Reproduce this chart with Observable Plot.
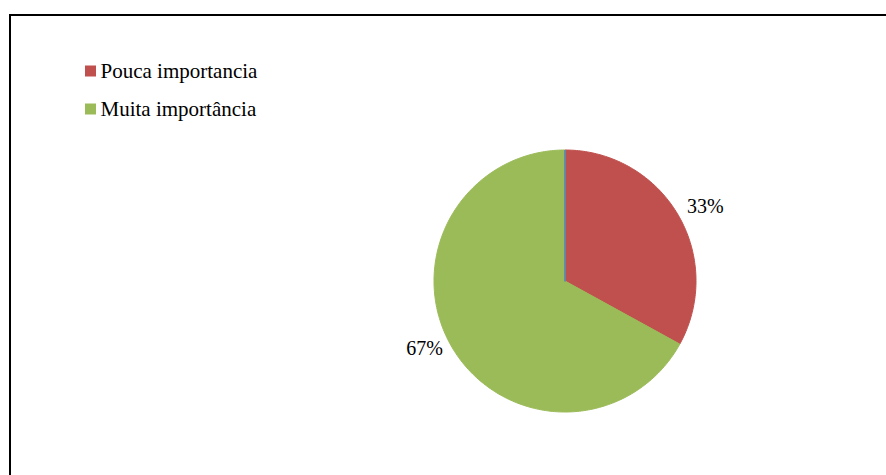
<!DOCTYPE html>
<html>
<head>
<meta charset="utf-8">
<script src="https://cdn.jsdelivr.net/npm/d3@7"></script>
<script src="https://cdn.jsdelivr.net/npm/@observablehq/plot@0.6"></script>
<style>
  html, body { margin: 0; padding: 0; background: #fff; overflow: hidden; }
  #chart svg { display: block; }
</style>
</head>
<body>
<div id="chart"></div>
<script>
// ---- data ----
const categories = ["", "Pouca importancia", "Muita importância"];
const values = [0, 33, 67];
const colors = ["#4F81BD", "#C0504D", "#9BBB59"];
const legendCategories = ["Pouca importancia", "Muita importância"];
const legendColors = ["#C0504D", "#9BBB59"];

// ---- layout ----
const W = 886, H = 475;
const cx = 564.5, cy = 280.5, R = 131;
const font = "'Liberation Serif', 'Times New Roman', serif";

const total = d3.sum(values);
const pie = d3.pie().sort(null).value(d => d.value)(categories.map((c, i) => ({cat: c, value: values[i], color: colors[i]})));

// polygon points for each slice, in pixel-unit data space (y down)
const slicePts = [];
pie.forEach((p, i) => {
  const n = Math.max(2, Math.ceil((p.endAngle - p.startAngle) / (Math.PI / 180)));
  slicePts.push({k: i, x: cx, y: cy, color: p.data.color});
  for (let j = 0; j <= n; j++) {
    const a = p.startAngle + (p.endAngle - p.startAngle) * j / n;
    slicePts.push({k: i, x: cx + R * Math.sin(a), y: cy - R * Math.cos(a), color: p.data.color});
  }
  slicePts.push({k: i, x: cx, y: cy, color: p.data.color});
});
// draw zero slices last so they stay visible
const order = [1, 2, 0];
const orderedPts = order.flatMap(k => slicePts.filter(d => d.k === k));

// percentage labels (outside the pie)
const labelData = pie.filter(p => p.data.value > 0).map(p => {
  const a = (p.startAngle + p.endAngle) / 2;
  return {
    a,
    text: Math.round(p.data.value / total * 100) + "%",
    anchor: Math.sin(a) > 0 ? "start" : "end"
  };
});
// placement matching the reference
labelData[0].x = 686.5; labelData[0].y = 206;
labelData[1].x = 442.5; labelData[1].y = 348;

const legendData = legendCategories.map((c, i) => ({cat: c, color: legendColors[i], y: 71 + i * 38}));

const chart = Plot.plot({
  width: W,
  height: H,
  margin: 0,
  x: {domain: [0, W], range: [0, W], axis: null},
  y: {domain: [0, H], range: [0, H], axis: null},
  style: {background: "#fff"},
  marks: [
    // chart border
    Plot.rect([{x1: 10, x2: W + 20, y1: 15, y2: H + 20}], {
      x1: "x1", x2: "x2", y1: "y1", y2: "y2", fill: "none", stroke: "#000", strokeWidth: 2
    }),
    // slices
    Plot.line(orderedPts, {
      x: "x", y: "y", z: "k", fill: "color", stroke: "color", strokeWidth: 1, curve: "linear"
    }),
    // percentage labels
    ...labelData.map(d => Plot.text([d], {
      x: "x", y: "y", text: "text", textAnchor: d.anchor, fontSize: 20, fill: "#000"
    })),
    // legend
    Plot.rect(legendData, {
      x1: () => 85, x2: () => 96, y1: d => d.y - 5.5, y2: d => d.y + 5.5, fill: "color"
    }),
    Plot.text(legendData, {
      x: () => 100, y: "y", text: "cat", textAnchor: "start", fontSize: 21, fill: "#000"
    })
  ]
});
d3.select(chart).style("font-family", font);
d3.select(chart).selectAll("text").style("font-family", font);
d3.select(chart).selectAll("g").style("font-family", font);
document.getElementById("chart").appendChild(chart);
</script>
</body>
</html>
